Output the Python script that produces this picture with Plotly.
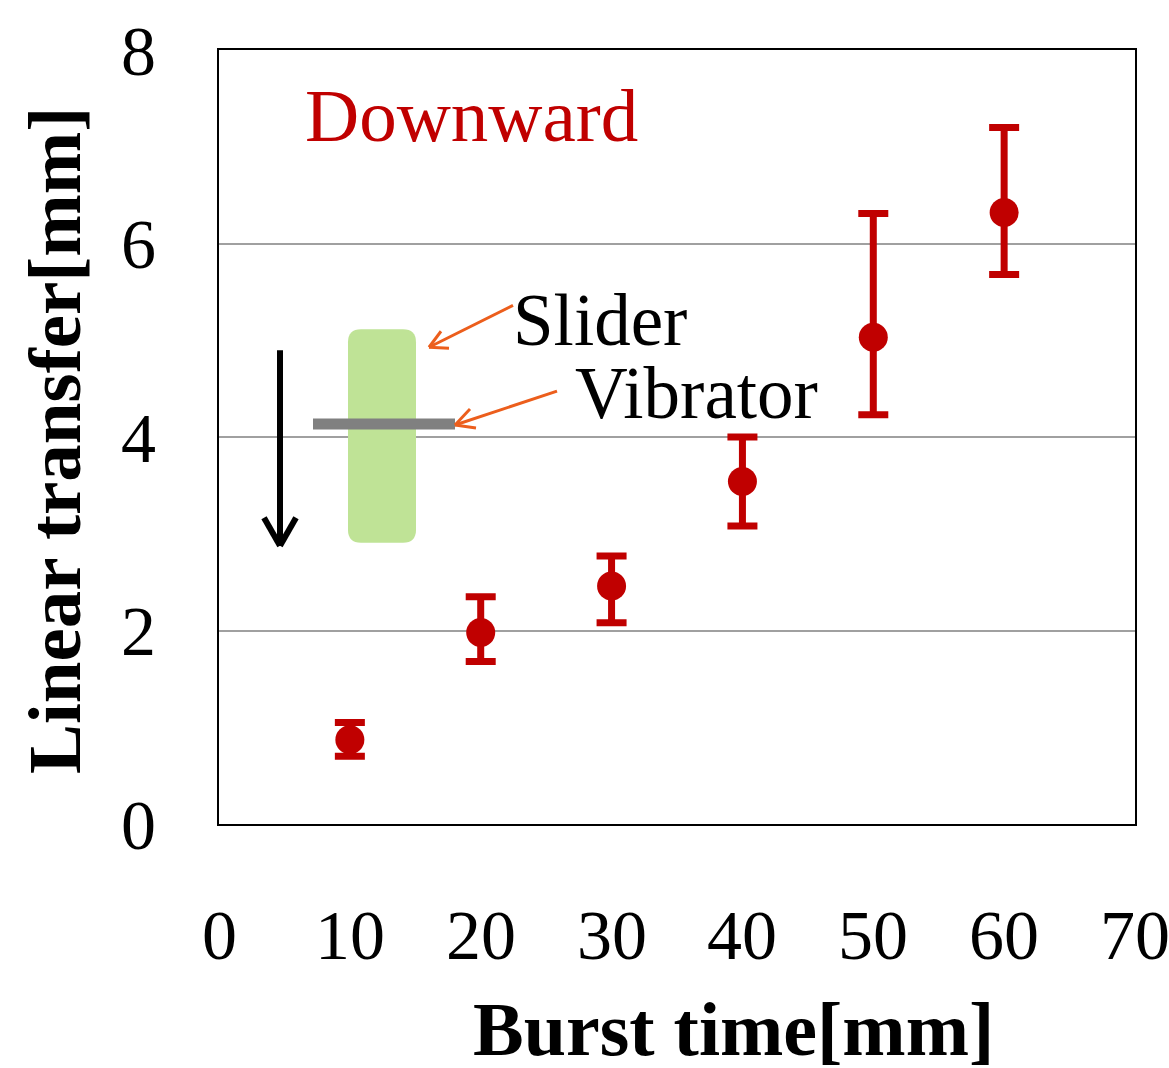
import plotly.graph_objects as go

# ---- data ----
burst_time = [10, 20, 30, 40, 50, 60]
transfer_mean = [0.87, 1.98, 2.46, 3.54, 5.03, 6.32]
err_plus = [0.18, 0.37, 0.31, 0.46, 1.28, 0.88]
err_minus = [0.17, 0.30, 0.38, 0.46, 0.80, 0.64]
x_ticks = [0, 10, 20, 30, 40, 50, 60, 70]
y_ticks = [0, 2, 4, 6, 8]

# ---- layout geometry (pixels) ----
W, H = 1169, 1068
ML, MR, MT, MB = 219, 34, 48, 244
PX0, PX1 = ML, W - MR
PY0, PY1 = H - MB, MT  # y=0 pixel, y=8 pixel
XR = (0, 70)
YR = (0, 8)


def dx(px):
    return XR[0] + (px - PX0) / (PX1 - PX0) * (XR[1] - XR[0])


def dy(py):
    return YR[0] + (PY0 - py) / (PY0 - PY1) * (YR[1] - YR[0])


def paper_x(px):
    return (px - PX0) / (PX1 - PX0)


def paper_y(py):
    return (PY0 - py) / (PY0 - PY1)


RED = "#C00000"
SERIF = "Liberation Serif, Times New Roman, serif"

fig = go.Figure()
fig.add_trace(go.Scatter(
    x=burst_time, y=transfer_mean, mode="markers",
    marker=dict(color=RED, size=29),
    error_y=dict(type="data", symmetric=False, array=err_plus, arrayminus=err_minus,
                 color=RED, thickness=7, width=15),
    showlegend=False,
))

shapes = []

# rounded green slider rectangle
def rounded_rect(x0, y0, x1, y1, r):
    # pixel coordinates, y0 top, y1 bottom
    pts = [
        f"M {dx(x0 + r)},{dy(y0)}",
        f"L {dx(x1 - r)},{dy(y0)}",
        f"Q {dx(x1)},{dy(y0)} {dx(x1)},{dy(y0 + r)}",
        f"L {dx(x1)},{dy(y1 - r)}",
        f"Q {dx(x1)},{dy(y1)} {dx(x1 - r)},{dy(y1)}",
        f"L {dx(x0 + r)},{dy(y1)}",
        f"Q {dx(x0)},{dy(y1)} {dx(x0)},{dy(y1 - r)}",
        f"L {dx(x0)},{dy(y0 + r)}",
        f"Q {dx(x0)},{dy(y0)} {dx(x0 + r)},{dy(y0)}",
        "Z",
    ]
    return " ".join(pts)

shapes.append(dict(type="path", xref="x", yref="y",
                   path=rounded_rect(348, 328, 416, 542, 13),
                   fillcolor="#BFE396", line=dict(width=0), layer="above"))
# gray vibrator bar
shapes.append(dict(type="rect", xref="x", yref="y",
                   x0=dx(313), x1=dx(455), y0=dy(428.5), y1=dy(417.5),
                   fillcolor="#808080", line=dict(width=0), layer="above"))


def seg(p0, p1, color, width):
    return dict(type="line", xref="x", yref="y",
                x0=dx(p0[0]), y0=dy(p0[1]), x1=dx(p1[0]), y1=dy(p1[1]),
                line=dict(color=color, width=width), layer="above")

# black downward arrow
shapes.append(seg((280, 349), (280, 545), "black", 6))
shapes.append(seg((264, 517), (280, 545), "black", 6))
shapes.append(seg((296, 517), (280, 545), "black", 6))

ORANGE = "#EC5E1C"
# slider pointer
shapes.append(seg((513, 304), (429, 346), ORANGE, 3))
shapes.append(seg((441, 330), (429, 346), ORANGE, 3))
shapes.append(seg((449, 347), (429, 346), ORANGE, 3))
# vibrator pointer
shapes.append(seg((557, 390), (455, 424), ORANGE, 3))
shapes.append(seg((470, 408), (455, 424), ORANGE, 3))
shapes.append(seg((476, 427), (455, 424), ORANGE, 3))

annotations = [
    dict(text="Downward", xref="paper", yref="paper", x=paper_x(303), y=paper_y(114),
         xanchor="left", yanchor="middle", showarrow=False,
         font=dict(family=SERIF, size=75, color=RED)),
    dict(text="Slider", xref="paper", yref="paper", x=paper_x(511), y=paper_y(319),
         xanchor="left", yanchor="middle", showarrow=False,
         font=dict(family=SERIF, size=73, color="black")),
    dict(text="Vibrator", xref="paper", yref="paper", x=paper_x(573), y=paper_y(392),
         xanchor="left", yanchor="middle", showarrow=False,
         font=dict(family=SERIF, size=73, color="black")),
    dict(text="<b>Burst time[mm]</b>", xref="paper", yref="paper", x=paper_x(733), y=paper_y(1030),
         xanchor="center", yanchor="middle", showarrow=False,
         font=dict(family=SERIF, size=76, color="black")),
    dict(text="<b>Linear transfer[mm]</b>", xref="paper", yref="paper", x=paper_x(55), y=paper_y(440),
         xanchor="center", yanchor="middle", showarrow=False, textangle=-90,
         font=dict(family=SERIF, size=75, color="black")),
]
# x tick labels drawn as annotations so the last one is not dropped at the edge
for v in x_ticks:
    annotations.append(dict(text=str(v), xref="x", yref="paper", x=v, y=paper_y(936),
                            xanchor="center", yanchor="middle", showarrow=False,
                            font=dict(family=SERIF, size=70, color="black")))

fig.update_layout(
    width=W, height=H,
    margin=dict(l=ML, r=MR, t=MT, b=MB),
    paper_bgcolor="white", plot_bgcolor="white",
    shapes=shapes, annotations=annotations,
    xaxis=dict(range=list(XR), tickvals=x_ticks, showticklabels=False,
               showgrid=False, zeroline=False, showline=True, linecolor="black",
               linewidth=2, mirror=True, ticks=""),
    yaxis=dict(range=list(YR), tickvals=y_ticks, ticktext=[str(v) for v in y_ticks],
               showgrid=True, gridcolor="#A0A0A0", gridwidth=2, zeroline=False,
               showline=True, linecolor="black", linewidth=2, mirror=True, ticks="",
               ticklabelstandoff=47,
               tickfont=dict(family=SERIF, size=70, color="black")),
)

fig.write_html("out.html")
